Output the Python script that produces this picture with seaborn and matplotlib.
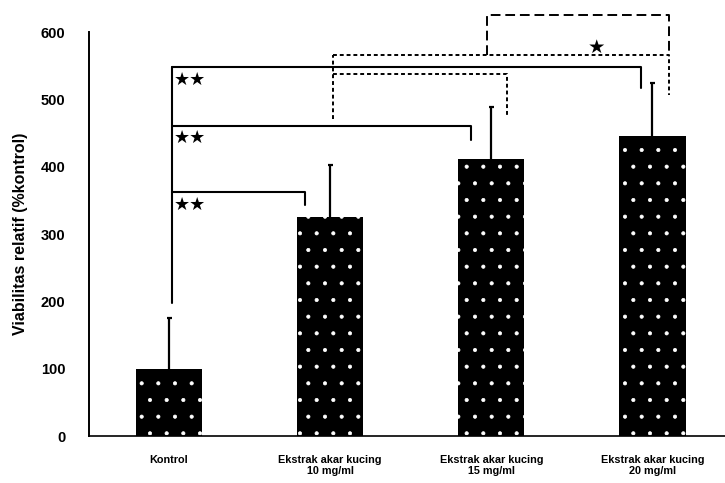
import pandas as pd
import seaborn as sns
import matplotlib
matplotlib.use("Agg")
import matplotlib.pyplot as plt

# data
groups = ["Kontrol", "Ekstrak akar kucing\n10 mg/ml",
          "Ekstrak akar kucing\n15 mg/ml", "Ekstrak akar kucing\n20 mg/ml"]
viabilitas = [100, 325, 411, 446]
sd = [76, 78, 78, 78]

df = pd.DataFrame({"grup": groups, "viabilitas": viabilitas})

sns.set_theme(style="white")
plt.rcParams["font.family"] = ["Liberation Sans", "DejaVu Sans"]
plt.rcParams["hatch.linewidth"] = 0.5

fig = plt.figure(figsize=(7.25, 4.83), dpi=100)
ax = fig.add_axes([0.1228, 0.0973, 0.8772, 0.8364])

sns.barplot(x="grup", y="viabilitas", data=df, color="black", width=0.41,
            saturation=1, edgecolor="white", linewidth=0, ax=ax)
for p in ax.patches:
    p.set_hatch(".")

# upper error bars only
ax.vlines(range(len(groups)), viabilitas,
          [v + e for v, e in zip(viabilitas, sd)], color="black", lw=1.6)
ax.hlines([v + e for v, e in zip(viabilitas, sd)],
          [i - 0.015 for i in range(len(groups))],
          [i + 0.015 for i in range(len(groups))], color="black", lw=1.6)

ax.set_xlim(-0.497, 3.45)
ax.set_ylim(0, 600)
ax.set_yticks([0, 100, 200, 300, 400, 500, 600])
ax.set_xlabel("")
ax.set_ylabel("Viabilitas relatif (%kontrol)", fontsize=11.5, fontweight="bold",
              color="black", labelpad=9)
plt.setp(ax.get_yticklabels(), fontsize=10.5, fontweight="bold", color="black")
plt.setp(ax.get_xticklabels(), fontsize=7.8, fontweight="bold", color="black",
         linespacing=1.1)
ax.tick_params(axis="y", length=0, pad=17)
ax.tick_params(axis="x", length=0, pad=14)

for s in ["top", "right"]:
    ax.spines[s].set_visible(False)
ax.spines["left"].set_color("black")
ax.spines["bottom"].set_color("black")
ax.spines["left"].set_linewidth(1.4)
ax.spines["bottom"].set_linewidth(1.2)

# significance brackets vs Kontrol (solid)
k = dict(color="black", lw=1.5, clip_on=False)
ax.plot([0.02, 0.02], [198, 548], **k)
for right, top, drop in [(0.845, 363, 343), (1.876, 461, 440), (2.93, 548, 517)]:
    ax.plot([0.02, right, right], [top, top, drop], **k)
for y in [343, 443, 529]:
    ax.text(0.03, y, "★★", fontsize=13, color="black", ha="left",
            va="center", family=["DejaVu Sans"])

# dotted brackets from 10 mg/ml
d = dict(color="black", lw=1.4, ls=(0, (2, 1.5)), clip_on=False)
ax.plot([1.02, 1.02], [471, 566], **d)
ax.plot([1.02, 2.1, 2.1], [538, 538, 474], **d)
ax.plot([1.02, 3.1, 3.1], [566, 566, 507], **d)

# dashed bracket 15 vs 20 mg/ml
ax.plot([1.97, 1.97, 3.1, 3.1], [566, 626, 626, 566], color="black", lw=1.4,
        ls=(0, (5, 2.5)), clip_on=False)
ax.text(2.65, 577, "★", fontsize=14, color="black", ha="center", va="center",
        family=["DejaVu Sans"])

plt.savefig("out.png", dpi=100)
